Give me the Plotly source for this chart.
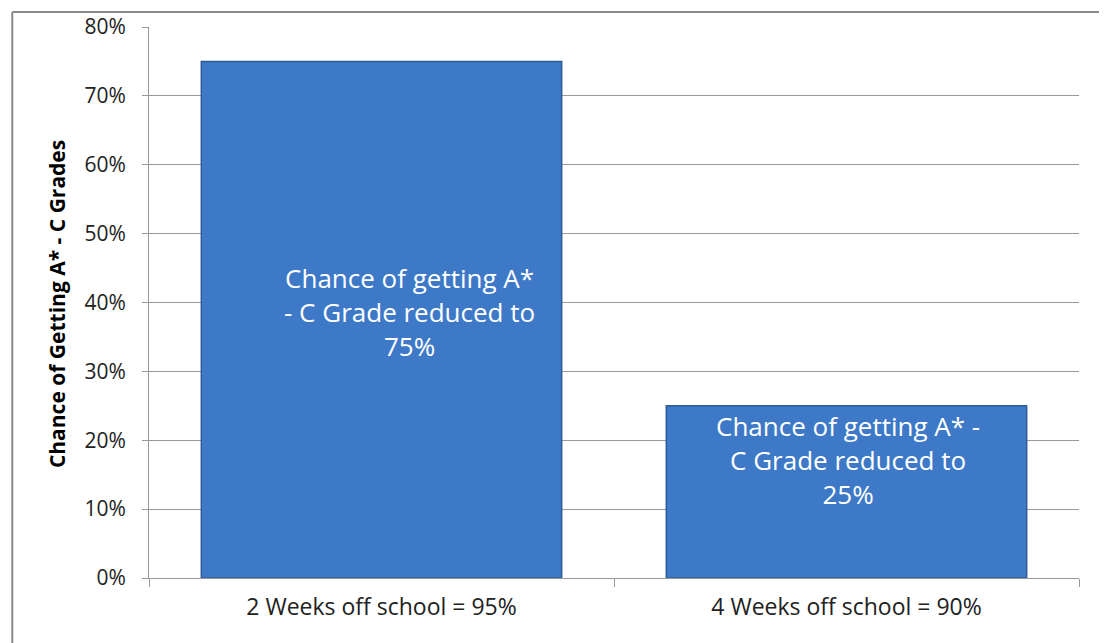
import plotly.graph_objects as go

categories = ["2 Weeks off school = 95%", "4 Weeks off school = 90%"]
values = [75, 25]
tick_vals = [0, 10, 20, 30, 40, 50, 60, 70, 80]
tick_text = ["0%", "10%", "20%", "30%", "40%", "50%", "60%", "70%", "80%"]
label_texts = [
    "Chance of getting A*<br>- C Grade reduced to<br>{}%".format(values[0]),
    "Chance of getting A* -<br>C Grade reduced to<br>{}%".format(values[1]),
]
label_y = [38.6, 17.1]
label_shift = [28, 1]

FONT = "Open Sans"

fig = go.Figure()
fig.add_trace(go.Bar(
    x=categories, y=values,
    marker=dict(color="#3E79C7", line=dict(color="#2E5C9A", width=1.5)),
    hoverinfo="skip",
))

for i in range(len(categories)):
    fig.add_annotation(
        x=categories[i], y=label_y[i], xref="x", yref="y",
        text=label_texts[i], showarrow=False, xshift=label_shift[i],
        font=dict(family=FONT, size=26, color="white"), align="center",
    )

fig.add_annotation(
    x=-0.099, y=0.497, xref="paper", yref="paper", xanchor="center", yanchor="middle",
    text="<b>Chance of Getting A* - C Grades</b>", textangle=-90,
    showarrow=False, font=dict(family=FONT, size=21, color="black"),
)

# outer chart frame (top and left edges visible)
fig.add_shape(type="line", xref="paper", yref="paper",
              x0=-0.147, x1=1.2, y0=1.027, y1=1.027,
              line=dict(color="#8a8a8a", width=2))
fig.add_shape(type="line", xref="paper", yref="paper",
              x0=-0.147, x1=-0.147, y0=1.027, y1=-0.3,
              line=dict(color="#8a8a8a", width=2))

fig.update_layout(
    width=1099, height=635,
    margin=dict(l=141, r=28, t=19, b=65),
    paper_bgcolor="white", plot_bgcolor="white",
    bargap=0.225, showlegend=False,
    font=dict(family=FONT, color="#222"),
)
fig.update_xaxes(
    automargin=False,
    showline=True, linecolor="#999", linewidth=1,
    ticks="outside", tickson="boundaries", ticklen=8, tickcolor="#999",
    tickfont=dict(family=FONT, size=23, color="#222"),
    ticklabelstandoff=8,
    showgrid=False,
)
fig.update_yaxes(
    automargin=False,
    range=[0, 80], tickvals=tick_vals, ticktext=tick_text,
    showline=True, linecolor="#999", linewidth=1,
    ticks="outside", ticklen=6, tickcolor="#999",
    ticklabelstandoff=12,
    showgrid=True, gridcolor="#999", gridwidth=1,
    tickfont=dict(family=FONT, size=21, color="#222"),
    zeroline=False,
)

fig.write_html("out.html")
